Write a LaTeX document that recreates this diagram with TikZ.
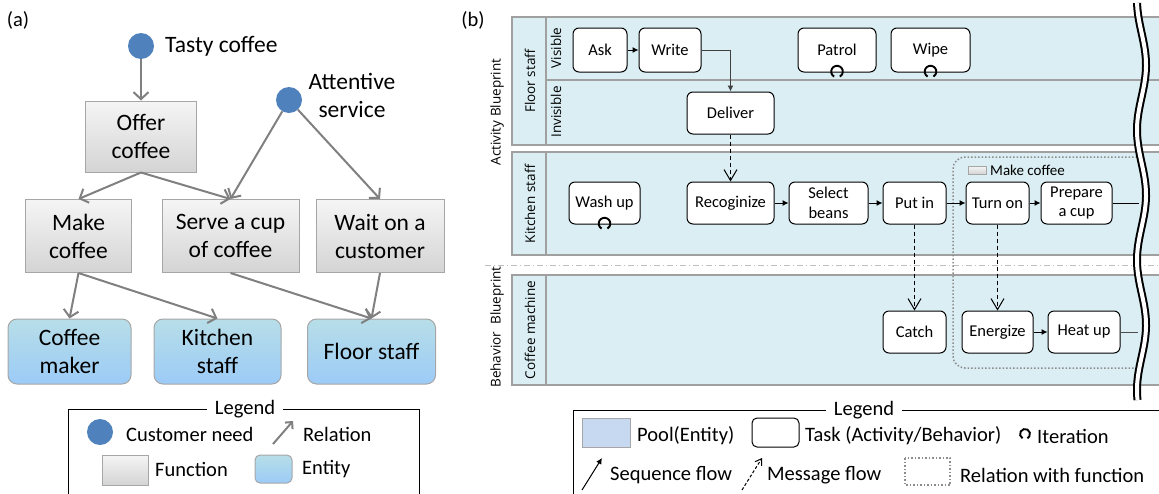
\documentclass[tikz,border=0pt]{standalone}
\usepackage{fontspec}
\setmainfont{Carlito}
\newfontfamily\lanefont{Open Sans}
\usetikzlibrary{arrows.meta}

\definecolor{needblue}{HTML}{4F81BD}
\definecolor{functop}{HTML}{F5F5F5}
\definecolor{funcbot}{HTML}{D4D4D4}
\definecolor{boxedge}{HTML}{A6A6A6}
\definecolor{enttop}{HTML}{B7DEE8}
\definecolor{entbot}{HTML}{9CCBF7}
\definecolor{relgray}{HTML}{808080}
\definecolor{poolblue}{HTML}{DAEEF3}
\definecolor{pooledge}{HTML}{A0A0A0}
\definecolor{swatchblue}{HTML}{C6D9F1}
\definecolor{sepgray}{HTML}{BFBFBF}
\definecolor{groupgray}{HTML}{8C8C8C}

\newcommand\funcfont{\fontsize{23.5}{28}\selectfont}
\newcommand\taskfont{\fontsize{16.5}{19.5}\selectfont}
\newcommand\legfont{\fontsize{20.5}{24}\selectfont}
\newcommand\lanesize{\lanefont\fontsize{13.5}{16}\selectfont}

\begin{document}
\begin{tikzpicture}[x=1pt,y=-1pt,
  need/.style={circle,fill=needblue,minimum size=26pt,inner sep=0pt},
  func/.style={draw=boxedge,line width=1pt,top color=functop,bottom color=funcbot,align=center,inner sep=0pt,font=\funcfont},
  entity/.style={draw=boxedge,line width=1pt,rounded corners=9pt,top color=enttop,bottom color=entbot,align=center,inner sep=0pt,font=\funcfont},
  rel/.style={draw=relgray,line width=2pt,-{Straight Barb[length=7pt,width=15pt]}},
  pool/.style={draw=pooledge,line width=1.5pt,fill=poolblue},
  poolline/.style={draw=pooledge,line width=1.5pt},
  lanetxt/.style={rotate=90,inner sep=0pt,font=\lanesize},
  task/.style={draw,line width=1pt,rounded corners=6pt,fill=white,align=center,inner sep=0pt,font=\taskfont},
  seq/.style={line width=1pt,-{Latex[length=6pt,width=6pt]}},
  msg/.style={line width=1pt,dash pattern=on 4pt off 3pt,-{Straight Barb[length=11pt,width=13pt]}},
  loopmark/.style={line width=1.9pt},
  legtxt/.style={anchor=west,inner sep=0pt,font=\legfont}]

\useasboundingbox (0,0) rectangle (1159,493);

\node[font=\legfont] (alabel) at (18,20) {(a)};
\node[font=\legfont] (blabel) at (473,20) {(b)};

\node[need] (tasty) at (141,46) {};
\node[anchor=west,inner sep=0pt,font=\funcfont] (tastytxt) at (165,46) {Tasty coffee};
\node[need] (attentive) at (289,100) {};
\node[align=center,inner sep=0pt,font=\funcfont] (attentivetxt) at (352,95) {Attentive\\service};

\node[func,minimum width=111pt,minimum height=71pt] (offer) at (141,136.5) {Offer\\coffee};
\node[func,minimum width=106pt,minimum height=73pt] (make) at (78.5,236) {Make\\coffee};
\node[func,minimum width=137pt,minimum height=73pt] (serve) at (230.5,236) {Serve a cup\\of coffee};
\node[func,minimum width=128pt,minimum height=73pt] (wait) at (380,236) {Wait on a\\customer};

\node[entity,minimum width=123pt,minimum height=65pt] (cmaker) at (69.5,351.5) {Coffee\\maker};
\node[entity,minimum width=127pt,minimum height=65pt] (kstaff) at (217.5,351.5) {Kitchen\\staff};
\node[entity,minimum width=128pt,minimum height=65pt] (fstaff) at (371.5,351.5) {Floor staff};

\draw[rel] (tasty) -- (offer);
\draw[rel] (offer.south) -- (make.north);
\draw[rel] (offer.south) -- (serve.north);
\draw[rel] (attentive) -- (serve.north);
\draw[rel] (attentive) -- (wait.north);
\draw[rel] (make.south) -- (cmaker.north);
\draw[rel] (make.south) -- (kstaff.north);
\draw[rel] (serve.south) -- (fstaff.north);
\draw[rel] (wait.south) -- (fstaff.north);

\draw[line width=1pt] (68,495) -- (68,409) -- (419,409) -- (419,495);
\node[fill=white,inner xsep=8pt,font=\legfont] (alegend) at (245,409) {Legend};
\node[need] (lneed) at (100,432) {};
\node[legtxt] (lneedtxt) at (126,434) {Customer need};
\coordinate (lrelA) at (273,444);
\coordinate (lrelB) at (293,421);
\draw[draw=relgray,line width=2pt,-{Straight Barb[length=5pt,width=10pt]}] (lrelA) -- (lrelB);
\node[legtxt] (lreltxt) at (303,434) {Relation};
\node[func,minimum width=46pt,minimum height=30pt] (lfunc) at (125,470) {};
\node[legtxt] (lfunctxt) at (155,469) {Function};
\node[entity,rounded corners=5pt,minimum width=37pt,minimum height=28pt] (lent) at (273.5,469) {};
\node[legtxt] (lenttxt) at (302,469) {Entity};

\draw[pool] (512,17) rectangle (1164,145);
\draw[poolline] (546,17) -- (546,145);
\draw[poolline] (546,80) -- (1164,80);
\draw[pool] (512,152) rectangle (1164,255);
\draw[poolline] (546,152) -- (546,255);
\draw[pool] (512,275) rectangle (1164,385);
\draw[poolline] (546,275) -- (546,385);
\draw[sepgray,line width=1pt,dash pattern=on 6pt off 3pt on 1pt off 3pt] (485,265) -- (1159,265);

\node[lanetxt] (actbp) at (497,112) {Activity Blueprint};
\node[lanetxt] (behbp) at (497,327) {Behavior\ \ Blueprint};
\node[lanetxt] (floortxt) at (530,81) {Floor staff};
\node[lanetxt] (vistxt) at (556,48) {Visible};
\node[lanetxt] (invistxt) at (556,112) {Invisible};
\node[lanetxt] (kitchentxt) at (530,204) {Kitchen staff};
\node[lanetxt] (machinetxt) at (530,330) {Coffee machine};

\draw[groupgray,line width=1.5pt,dotted,rounded corners=12pt] (1137,157) -- (953,157) -- (953,368) -- (1137,368);
\node[draw=boxedge,top color=functop,bottom color=funcbot,minimum width=18pt,minimum height=8pt,inner sep=0pt] (mcicon) at (977,170) {};
\node[anchor=west,inner sep=0pt,font=\fontsize{15}{18}\selectfont] (mctxt) at (990,170) {Make coffee};

\node[task,minimum width=54pt,minimum height=44pt] (ask) at (600,50) {Ask};
\node[task,minimum width=62pt,minimum height=44pt] (write) at (670,50) {Write};
\node[task,minimum width=78pt,minimum height=44pt] (patrol) at (837,50) {Patrol};
\node[task,minimum width=79pt,minimum height=44pt] (wipe) at (930.5,50) {Wipe};
\node[task,minimum width=87pt,minimum height=42pt] (deliver) at (730.5,113) {Deliver};
\node[task,minimum width=71pt,minimum height=42pt] (washup) at (604.5,203) {Wash up};
\node[task,minimum width=87pt,minimum height=42pt] (recog) at (730.5,203) {Recoginize};
\node[task,minimum width=79pt,minimum height=42pt] (select) at (828.5,203) {Select\\beans};
\node[task,minimum width=63pt,minimum height=42pt] (putin) at (914.5,203) {Put in};
\node[task,minimum width=63pt,minimum height=42pt] (turnon) at (997.5,203) {Turn on};
\node[task,minimum width=71pt,minimum height=42pt] (prepare) at (1076.5,203) {Prepare\\a cup};
\node[task,minimum width=63pt,minimum height=42pt] (catch) at (914.5,332) {Catch};
\node[task,minimum width=71pt,minimum height=42pt] (energize) at (997.5,332) {Energize};
\node[task,minimum width=72pt,minimum height=42pt] (heatup) at (1084,332) {Heat up};

\draw[loopmark] (patrol.south) ++(-2.9,4.1) arc[start angle=120,end angle=420,radius=5.8];
\draw[loopmark] (wipe.south) ++(-2.9,4.1) arc[start angle=120,end angle=420,radius=5.8];
\draw[loopmark] (washup.south) ++(-2.9,4.1) arc[start angle=120,end angle=420,radius=5.8];

\draw[seq] (ask) -- (write);
\draw[seq,draw=black!75] (write.east) -| (deliver.north);
\draw[msg] (deliver) -- (recog);
\draw[seq] (recog) -- (select);
\draw[seq] (select) -- (putin);
\draw[seq] (putin) -- (turnon);
\draw[seq] (turnon) -- (prepare);
\draw[msg] (putin) -- (catch);
\draw[msg] (turnon) -- (energize);
\draw[seq] (energize) -- (heatup);
\coordinate (prepend) at (1139,203);
\coordinate (heatend) at (1138,332);
\draw[line width=1pt] (prepare) -- (prepend);
\draw[line width=1pt,draw=black!70] (heatup) -- (heatend);

\draw[line width=2pt,double=white,double distance=4pt] plot[domain=3:400,samples=120] ({1141.5-4.5*cos((\x-130)*2.7692)},\x);

\draw[line width=1pt] (573,495) -- (573,410) -- (1162,410);
\node[fill=white,inner xsep=8pt,font=\legfont] (blegend) at (864,410) {Legend};
\draw[draw=boxedge,fill=swatchblue,line width=1pt] (582,418) rectangle (630,447);
\node[legtxt] (lpooltxt) at (637,436) {Pool(Entity)};
\draw[line width=1pt,rounded corners=5pt] (752,418) rectangle (799,447);
\node[legtxt] (ltasktxt) at (805,436) {Task (Activity/Behavior)};
\coordinate (liter) at (1025,434);
\draw[loopmark] (liter) ++(-2.5,4.3) arc[start angle=120,end angle=420,radius=5];
\node[legtxt] (litertxt) at (1037,436) {Iteration};
\coordinate (lseqA) at (582,490);
\coordinate (lseqB) at (602,458);
\draw[seq] (lseqA) -- (lseqB);
\node[legtxt] (lseqtxt) at (610,475) {Sequence flow};
\coordinate (lmsgA) at (742,490);
\coordinate (lmsgB) at (762,458);
\draw[line width=1pt,dash pattern=on 3pt off 2pt,-{Straight Barb[length=6pt,width=8pt]}] (lmsgA) -- (lmsgB);
\node[legtxt] (lmsgtxt) at (767,475) {Message flow};
\draw[groupgray,line width=1.5pt,dotted] (905,458) rectangle (950,485);
\node[legtxt] (lgrouptxt) at (960,475) {Relation with function};

\end{tikzpicture}
\end{document}
